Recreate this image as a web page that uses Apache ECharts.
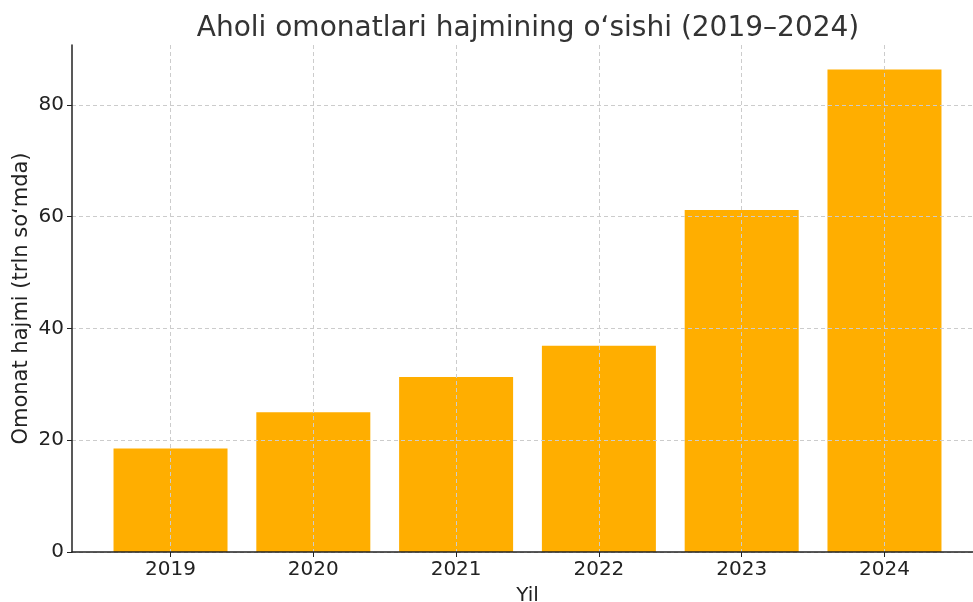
<!DOCTYPE html>
<html><head><meta charset="utf-8">
<script src="https://cdn.jsdelivr.net/npm/echarts@6/dist/echarts.min.js"></script>
<style>html,body{margin:0;padding:0;background:#fff}#c{width:973px;height:602px}</style>
</head><body><div id="c"></div>
<script>
var years = ['2019','2020','2021','2022','2023','2024'];
var deposits = [18.5, 25.0, 31.3, 36.9, 61.2, 86.3];
var yTicks = [0, 20, 40, 60, 80];
var titleText = 'Aholi omonatlari hajmining oʻsishi (2019–2024)';
var xName = 'Yil';
var yName = 'Omonat hajmi (trln soʻmda)';

var idx = years.map(function(_, i){ return i; });
var chart = echarts.init(document.getElementById('c'));
var font = 'DejaVu Sans';
chart.setOption({
  animation: false,
  title: { text: titleText, left: 523, textAlign: 'center', top: 10,
    textStyle: { fontFamily: font, fontSize: 28, fontWeight: 'normal', color: '#333' } },
  grid: { left: 72, top: 45, bottom: 50, width: 911, outerBoundsMode: 'none', containLabel: false },
  xAxis: {
    type: 'value', min: -0.69, max: 5.69, z: 3,
    name: xName, nameLocation: 'middle', nameGap: 34, nameMoveOverlap: false,
    nameTextStyle: { fontFamily: font, fontSize: 20, color: '#222' },
    axisLine: { show: true, onZero: false, lineStyle: { color: '#222', width: 1.5 } },
    axisTick: { show: true, customValues: idx, length: 5, lineStyle: { color: '#222' } },
    axisLabel: { customValues: idx, fontFamily: font, fontSize: 20, color: '#222', margin: 8,
      formatter: function(v){ return years[Math.round(v)]; } },
    splitLine: { show: true, lineStyle: { color: '#cccccc', type: [4, 3], width: 1 } }
  },
  yAxis: {
    type: 'value', min: 0, max: 90.7, z: 3,
    name: yName, nameLocation: 'middle', nameGap: 40, nameRotate: 90, nameMoveOverlap: false,
    nameTextStyle: { fontFamily: font, fontSize: 21, color: '#222' },
    axisLine: { show: true, onZero: false, lineStyle: { color: '#222', width: 1.5 } },
    axisTick: { show: true, customValues: yTicks, length: 5, lineStyle: { color: '#222' } },
    axisLabel: { customValues: yTicks, fontFamily: font, fontSize: 20, color: '#222', margin: 8 },
    splitLine: { show: true, lineStyle: { color: '#cccccc', type: [4, 3], width: 1 } }
  },
  series: [{
    type: 'bar', z: 2, barWidth: 114,
    data: deposits.map(function(v, i){ return [i, v]; }),
    itemStyle: { color: '#ffae00' }
  }]
});
</script></body></html>
